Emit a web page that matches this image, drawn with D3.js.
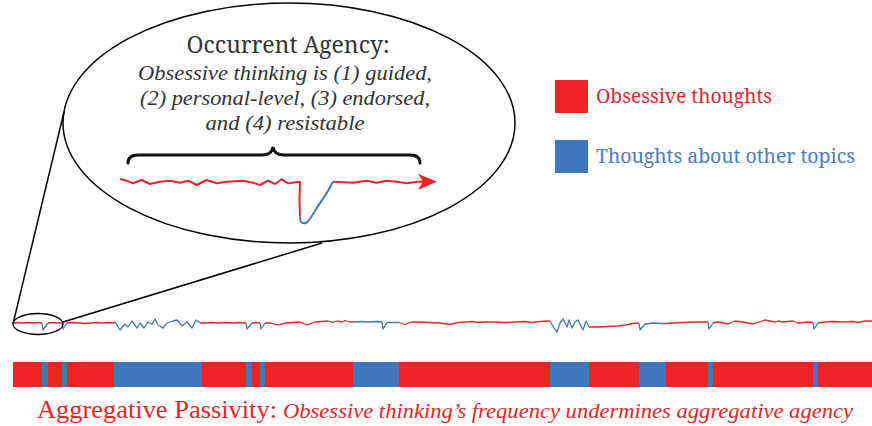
<html>
<head>
<script src="https://d3js.org/d3.v7.min.js"></script>
<style>
  body { margin: 0; background: #fff; }
</style>
</head>
<body>
<svg width="872" height="426"></svg>
<script>
// bar segments (time units), alternating obsessive / other, starting with obsessive
var segStart = [0, 29, 35, 49, 54, 101, 189, 233, 239, 247, 252, 340, 386, 537, 576, 626, 653, 695, 700, 800, 805];
var segEnd   = [29, 35, 49, 54, 101, 189, 233, 239, 247, 252, 340, 386, 537, 576, 626, 653, 695, 700, 800, 805, 859];
var segType  = ["obs","other","obs","other","obs","other","obs","other","obs","other","obs",
                "other","obs","other","obs","other","obs","other","obs","other","obs"];

// thought stream line (time, deviation)
var lineT = [0,5,10,15,20,25,29, 30,35, 40,45,49, 50,54,
  60,66,72,78,84,90,96,101,
  102,107,112,115,119,124,127,131,135,139,142,145,150,154,160,164,169,174,179,183,187,
  192,198,205,212,220,226,233, 234,239, 243,247, 248,252,
  258,265,272,287,294,302,315,320,324,329,332,337,340,
  348,356,364,369,370,374,380,386,
  392,399,407,415,427,437,445,453,460,465,472,482,492,502,512,519,527,535,
  537,541,544,547,550,554,556,559,562,565,570,573,576,
  585,595,605,612,620,626, 627,632,640,648,653,
  660,670,680,690,695, 696,700,
  705,715,722,730,740,752,762,765,770,780,785,795,800, 801,805,
  812,820,830,840,845,852,859];
var lineV = [0,0.5,0,0.5,0,0.5,0, -7,0, 0.5,0,0, -6,0,
  0.5,0,-0.5,0,0.5,0,0.5,0,
  1,-7,-1,-4,2,-5,0,-5,1,-1,4,-2,-5,0,2,3,-3,1,-5,3,0,
  0,0.5,0,0.5,0,0.5,0, -6,0, 0.5,0, -6,0,
  0,-2,0,1,-2,1,2,0.5,2,1,2.5,1,1,
  1.5,1,1.5,1,-6,0.5,0.5,0.5,
  -1.5,1,1,0.5,0,-1.5,0.5,1,1.5,0.5,1,1,0.5,1,1.5,0.5,1.5,2,
  2,-5,-9,0,4,-4,3,-5,1,3,-7,2,-4,
  -4,-3.5,-3,-2,-0.5,0, -7,-1,0,-0.5,-0.5,
  0,0.5,1,1,1, -6,0,
  1,-1,2,1,-1,3,1,2,1,2,0,1,0.5, -6,0,
  1,1.5,1,1.5,0.5,2,2];

// close-up of one episode inside the bubble
var zoomT = [0,6.7,13,21.7,30,40,50,60,68,76.7,86.7,96.7,106.7,123,133,140,148,155,161.7,168,180,
  179.5,180,181.7,186.7,196.7,206.7,213,
  233,246.7,256.7,266.7,276.7,286.7,296.7,306];
var zoomV = [2.5,0.8,-1.8,1.5,-2.5,-0.2,0.8,-1.2,0.8,-3.5,1.5,-1.8,-0.2,0.8,-1.2,-3.5,0.8,-2.5,2.2,-1.8,-0.2,
  -18.5,-35,-41,-41,-26.5,-11.5,-0.2,
  -1.2,0.8,-1.2,0.8,-0.2,-1.8,-0.2,-0.2];
var zoomBlue = [180, 213];

var legendLabels = ["Obsessive thoughts", "Thoughts about other topics"];

var red = "#ee2326", blue = "#3f76bc";
var titleFont = "'Noto Serif'";
var bodyFont = "'Liberation Serif'";
var svg = d3.select("svg");

var x = d3.scaleLinear().domain([0, 859]).range([13, 872]);
var y = d3.scaleLinear().domain([-12, 12]).range([335, 311]);

// bar
svg.append("g").selectAll("rect")
  .data(segStart.map(function(s, i) { return {s: s, e: segEnd[i], type: segType[i]}; }))
  .enter().append("rect")
  .attr("x", function(d) { return x(d.s); })
  .attr("width", function(d) { return x(d.e) - x(d.s) + 0.3; })
  .attr("y", 362).attr("height", 25)
  .attr("fill", function(d) { return d.type == "obs" ? red : blue; });

// split a line into colored runs
function runs(ts, vs, typeOf) {
  var out = [];
  for (var i = 1; i < ts.length; i++) {
    var t = typeOf((ts[i-1] + ts[i]) / 2);
    var last = out[out.length - 1];
    if (last && last.type == t) last.pts.push([ts[i], vs[i]]);
    else out.push({type: t, pts: [[ts[i-1], vs[i-1]], [ts[i], vs[i]]]});
  }
  return out;
}
function segTypeAt(t) {
  for (var i = 0; i < segStart.length; i++) if (t >= segStart[i] && t < segEnd[i]) return segType[i];
  return "obs";
}

var mainLine = d3.line().x(function(d) { return x(d[0]); }).y(function(d) { return y(d[1]); });
svg.append("g").selectAll("path")
  .data(runs(lineT, lineV, segTypeAt))
  .enter().append("path")
  .attr("d", function(d) { return mainLine(d.pts); })
  .attr("fill", "none")
  .attr("stroke", function(d) { return d.type == "obs" ? red : blue; })
  .attr("stroke-width", 1.3)
  .attr("stroke-linejoin", "round");

// bubble
svg.append("ellipse").attr("cx", 289).attr("cy", 123).attr("rx", 226).attr("ry", 120)
  .attr("fill", "none").attr("stroke", "#000").attr("stroke-width", 1.5);
svg.append("ellipse").attr("cx", 38).attr("cy", 324).attr("rx", 25).attr("ry", 10.5)
  .attr("fill", "none").attr("stroke", "#000").attr("stroke-width", 1.3);
svg.append("line").attr("x1", 13).attr("y1", 324).attr("x2", 64).attr("y2", 112)
  .attr("stroke", "#000").attr("stroke-width", 1.5);
svg.append("line").attr("x1", 63).attr("y1", 322).attr("x2", 322).attr("y2", 243)
  .attr("stroke", "#000").attr("stroke-width", 1.5);

// bubble text
var tc = "#333";
svg.append("text").attr("x", 288).attr("y", 53).attr("text-anchor", "middle")
  .style("font-family", titleFont)
  .attr("font-size", 24).attr("fill", tc).attr("textLength", 203).attr("lengthAdjust", "spacingAndGlyphs")
  .text("Occurrent Agency:");
var italicLines = ["Obsessive thinking is (1) guided,", "(2) personal-level, (3) endorsed,", "and (4) resistable"];
var italicW = [294, 290, 159];
svg.append("g").selectAll("text").data(italicLines).enter().append("text")
  .attr("x", 285).attr("y", function(d, i) { return 80 + i * 25; })
  .style("font-family", bodyFont).style("font-style", "italic")
  .attr("text-anchor", "middle").attr("font-size", 22)
  .attr("fill", tc)
  .attr("textLength", function(d, i) { return italicW[i]; }).attr("lengthAdjust", "spacingAndGlyphs")
  .text(function(d) { return d; });

// brace
svg.append("path")
  .attr("d", "M128,163 Q128,155 138,155 L262,155 Q272,155 273,147 Q274,155 284,155 L410,155 Q420,155 420,163")
  .attr("fill", "none").attr("stroke", "#111").attr("stroke-width", 3).attr("stroke-linecap", "round");

// close-up line
var zx = d3.scaleLinear().domain([0, 317]).range([120, 437]);
var zy = d3.scaleLinear().domain([-50, 10]).range([231.5, 171.5]);
var zoomRuns = runs(zoomT, zoomV, function(t) { return (t > zoomBlue[0] && t < zoomBlue[1]) ? "other" : "obs"; });
svg.append("g").selectAll("path").data(zoomRuns).enter().append("path")
  .attr("d", function(d) {
    return d3.line().x(function(p) { return zx(p[0]); }).y(function(p) { return zy(p[1]); })
      .curve(d.type == "obs" ? d3.curveLinear : d3.curveCatmullRom)(d.pts);
  })
  .attr("fill", "none")
  .attr("stroke", function(d) { return d.type == "obs" ? red : blue; })
  .attr("stroke-width", 2).attr("stroke-linejoin", "round");
var tipX = zx(317), tipY = zy(-0.2);
svg.append("path")
  .attr("d", "M" + tipX + "," + tipY + " L" + (tipX - 19) + "," + (tipY - 8) + " L" + (tipX - 14) + "," + tipY +
             " L" + (tipX - 19) + "," + (tipY + 8) + " Z")
  .attr("fill", red);

// legend
var legend = svg.append("g").selectAll("g").data(legendLabels).enter().append("g")
  .attr("transform", function(d, i) { return "translate(555," + (80 + i * 60) + ")"; });
legend.append("rect").attr("width", 33).attr("height", 33)
  .attr("fill", function(d, i) { return i == 0 ? red : blue; });
legend.append("text").attr("x", 41).attr("y", 23).attr("font-size", 20)
  .style("font-family", titleFont)
  .attr("fill", function(d, i) { return i == 0 ? "#e8262b" : "#4a7ec4"; })
  .attr("textLength", function(d, i) { return i == 0 ? 176 : 259; }).attr("lengthAdjust", "spacingAndGlyphs")
  .text(function(d) { return d; });

// caption, widths pinned so it always fits
svg.append("text").attr("x", 37).attr("y", 418).attr("font-size", 26).attr("fill", red)
  .style("font-family", bodyFont)
  .attr("textLength", 240).attr("lengthAdjust", "spacingAndGlyphs")
  .text("Aggregative Passivity:");
svg.append("text").attr("x", 283).attr("y", 418).attr("font-size", 21)
  .style("font-family", bodyFont).style("font-style", "italic")
  .attr("fill", red).attr("textLength", 570).attr("lengthAdjust", "spacingAndGlyphs")
  .text("Obsessive thinking\u2019s frequency undermines aggregative agency");
</script>
</body>
</html>
